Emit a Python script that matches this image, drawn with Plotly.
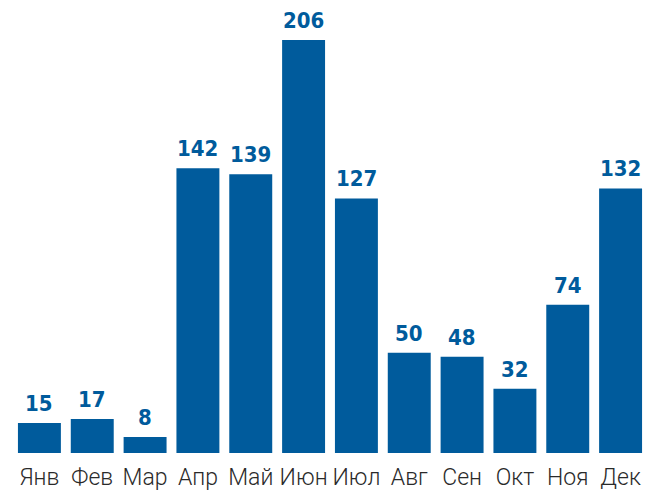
import plotly.graph_objects as go

months = ["Янв", "Фев", "Мар", "Апр", "Май", "Июн", "Июл", "Авг", "Сен", "Окт", "Ноя", "Дек"]
values = [15, 17, 8, 142, 139, 206, 127, 50, 48, 32, 74, 132]

bar_color = "#005b9c"

fig = go.Figure(go.Bar(
    x=months, y=values,
    marker=dict(color=bar_color, line=dict(width=0)),
    hoverinfo="skip",
))

for m, v in zip(months, values):
    fig.add_annotation(
        x=m, y=v, text=f"<b>{v}</b>", showarrow=False,
        yanchor="bottom", yshift=5,
        font=dict(family="DejaVu Sans Condensed", size=22, color=bar_color),
    )

fig.update_layout(
    width=655, height=491,
    margin=dict(l=5, r=16, t=4, b=46),
    paper_bgcolor="white", plot_bgcolor="white",
    bargap=0.187,
    showlegend=False,
    xaxis=dict(showgrid=False, zeroline=False, showline=False, ticks="",
               automargin=False, ticklabelstandoff=8,
               tickfont=dict(family="Roboto", weight=300, size=23, color="#2a2a2a")),
    yaxis=dict(range=[0, 220], visible=False),
)

fig.write_html("out.html")
